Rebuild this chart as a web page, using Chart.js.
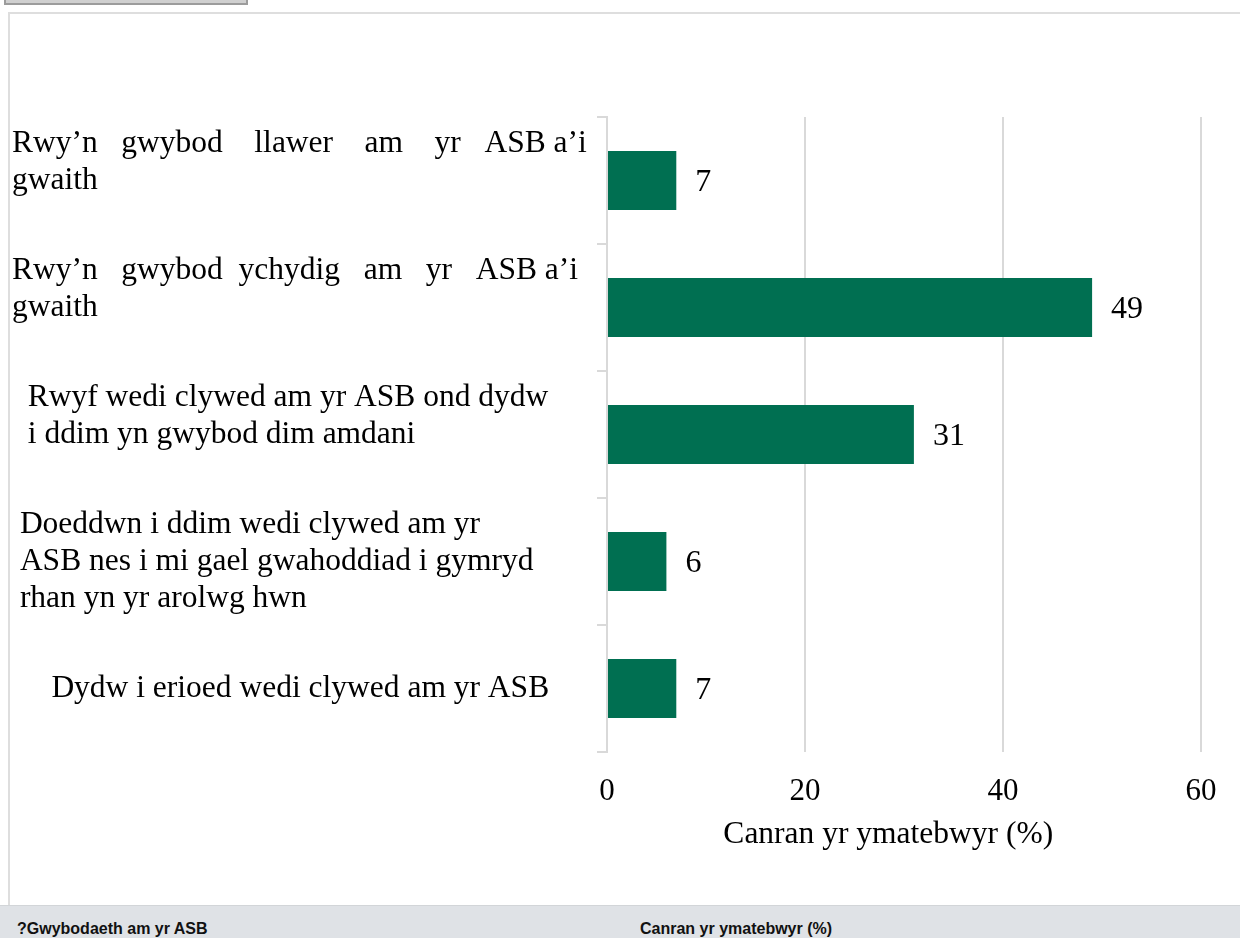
<!DOCTYPE html>
<html lang="cy">
<head>
<meta charset="UTF-8">
<title>Gwybodaeth am yr ASB</title>
<script src="https://cdn.jsdelivr.net/npm/chart.js"></script>
<style>
    body {
        margin: 0;
        width: 1240px;
        height: 938px;
        overflow: hidden;
        background: #fff;
        position: relative;
    }
    .tab {
        position: absolute;
        left: 4px;
        top: -20px;
        width: 240px;
        height: 21px;
        background: #d0d0d0;
        border: 2px solid #9c9c9c;
    }
    .panel {
        position: absolute;
        left: 8px;
        top: 12px;
        width: 1240px;
        height: 891px;
        border: 2px solid #dedede;
        border-right: none;
        border-bottom: none;
    }
    .chartBox {
        position: absolute;
        left: 0;
        top: 0;
        width: 1230px;
        height: 891px;
    }
    .footer {
        position: absolute;
        left: 0;
        top: 905px;
        width: 1240px;
        height: 33px;
        background: #dfe2e6;
        border-top: 1px solid #d2d5d8;
        font-family: 'Liberation Sans', Arial, sans-serif;
        font-weight: bold;
        font-size: 16px;
        color: #111;
    }
    .footer span {
        position: absolute;
        top: 14px;
    }
</style>
</head>
<body>
<div class="tab"></div>
<div class="panel">
    <div class="chartBox"><canvas id="awarenessChart"></canvas></div>
</div>
<div class="footer">
    <span style="left:17px">?Gwybodaeth am yr ASB</span>
    <span style="left:640px">Canran yr ymatebwyr (%)</span>
</div>

<script>
    // categories (multi-line, spaced as in the original)
    const categories = [
        ['Rwy’n   gwybod    llawer    am    yr   ASB a’i', 'gwaith', ''],
        ['Rwy’n   gwybod  ychydig   am   yr   ASB a’i', 'gwaith', ''],
        ['  Rwyf wedi clywed am yr ASB ond dydw', '  i ddim yn gwybod dim amdani', ''],
        [' Doeddwn i ddim wedi clywed am yr', ' ASB nes i mi gael gwahoddiad i gymryd', ' rhan yn yr arolwg hwn'],
        ['     Dydw i erioed wedi clywed am yr ASB']
    ];
    const percentages = [7, 49, 31, 6, 7];
    const xTicks = [0, 20, 40, 60];
    const axisTitle = 'Canran yr ymatebwyr (%)';

    const serif = "'Liberation Serif', 'Times New Roman', serif";

    // draw the value at the end of each bar
    const valueLabels = {
        id: 'valueLabels',
        afterDatasetsDraw(chart) {
            const ctx = chart.ctx;
            const meta = chart.getDatasetMeta(0);
            ctx.save();
            ctx.font = '32px ' + serif;
            ctx.fillStyle = '#000';
            ctx.textBaseline = 'middle';
            ctx.textAlign = 'left';
            meta.data.forEach((bar, i) => {
                ctx.fillText(String(percentages[i]), bar.x + 19, bar.y + 2);
            });
            ctx.restore();
        }
    };

    const ctx = document.getElementById('awarenessChart').getContext('2d');
    new Chart(ctx, {
        type: 'bar',
        data: {
            labels: categories,
            datasets: [{
                data: percentages,
                backgroundColor: '#006F51',
                borderWidth: 0,
                categoryPercentage: 1,
                barPercentage: 0.465
            }]
        },
        options: {
            indexAxis: 'y',
            responsive: true,
            maintainAspectRatio: false,
            animation: false,
            layout: {
                padding: { top: 103, right: 39, left: 2, bottom: 0 }
            },
            plugins: {
                legend: { display: false },
                tooltip: { enabled: false }
            },
            scales: {
                y: {
                    type: 'category',
                    offset: true,
                    grid: {
                        offset: true,
                        drawOnChartArea: false,
                        drawTicks: true,
                        tickLength: 10,
                        color: '#d9d9d9',
                        lineWidth: 2
                    },
                    border: { color: '#d9d9d9', width: 2 },
                    ticks: {
                        crossAlign: 'far',
                        color: '#000',
                        font: { family: serif, size: 31.5, lineHeight: 1.18 }
                    },
                    afterFit(scale) { scale.width = 595; }
                },
                x: {
                    min: xTicks[0],
                    max: xTicks[xTicks.length - 1],
                    grid: {
                        color: '#d9d9d9',
                        lineWidth: 2,
                        drawTicks: false
                    },
                    border: { display: false },
                    ticks: {
                        stepSize: xTicks[1] - xTicks[0],
                        padding: 21,
                        color: '#000',
                        font: { family: serif, size: 31 }
                    },
                    title: {
                        display: true,
                        text: axisTitle + '    ',
                        color: '#000',
                        font: { family: serif, size: 31.5 },
                        padding: { top: 6, bottom: 51 }
                    },
                    afterFit(scale) { scale.height = 153; }
                }
            }
        },
        plugins: [valueLabels]
    });
</script>
</body>
</html>
